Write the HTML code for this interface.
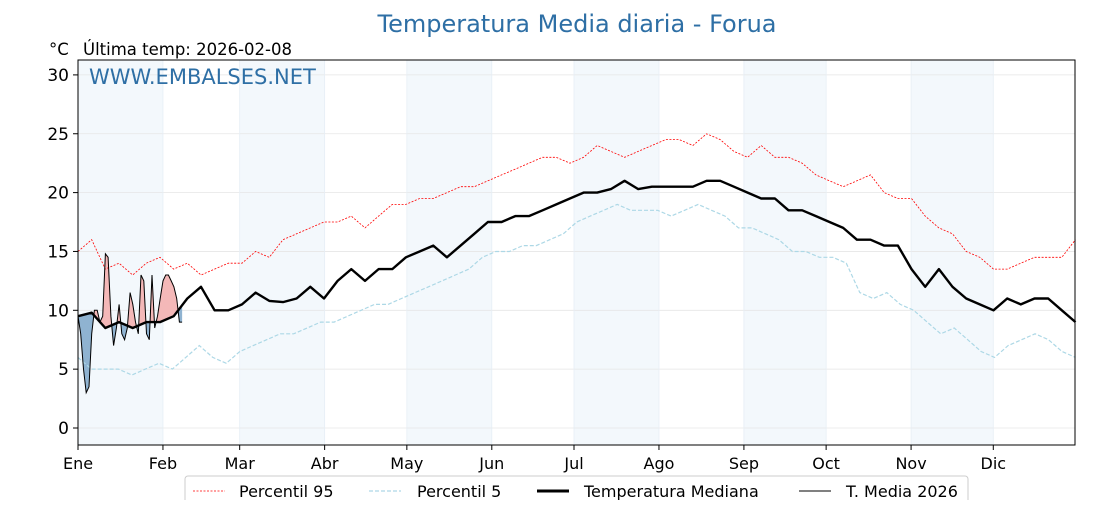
<!DOCTYPE html>
<html><head><meta charset="utf-8"><style>
body{margin:0;background:#fff;font-family:"Liberation Sans","DejaVu Sans",sans-serif;}
</style></head><body>
<svg id="c" width="1120" height="500" viewBox="0 0 1120 500" xmlns="http://www.w3.org/2000/svg">
<text x="577" y="32" text-anchor="middle" font-size="24" fill="#2e6fa5" font-family="DejaVu Sans, sans-serif">Temperatura Media diaria - Forua</text>
<text x="49" y="55" font-size="16.5" font-family="DejaVu Sans, sans-serif">°C</text>
<text x="83" y="55" font-size="16.5" font-family="DejaVu Sans, sans-serif">Última temp: 2026-02-08</text>
<g id="bands"></g><g id="grid"></g><g id="fills"></g><g id="lines"></g>
<rect x="78" y="60" width="997" height="385" fill="none" stroke="#000" stroke-width="1"/>
<text x="89" y="84" font-size="21" fill="#2e6fa5" font-family="DejaVu Sans, sans-serif">WWW.EMBALSES.NET</text>
<g id="axes" font-family="DejaVu Sans, sans-serif"></g>
<g>
<rect x="185" y="476" width="783" height="30" rx="3" fill="#fff" stroke="#ccc"/>
<line x1="193" y1="491" x2="225" y2="491" stroke="red" stroke-width="0.8" stroke-dasharray="2,1.5"/>
<text x="239" y="497" font-size="16" font-family="DejaVu Sans, sans-serif">Percentil 95</text>
<line x1="369" y1="491" x2="401" y2="491" stroke="#add8e6" stroke-width="1.2" stroke-dasharray="4,2"/>
<text x="417" y="497" font-size="16" font-family="DejaVu Sans, sans-serif">Percentil 5</text>
<line x1="537" y1="491" x2="569" y2="491" stroke="#000" stroke-width="3"/>
<text x="584" y="497" font-size="16" font-family="DejaVu Sans, sans-serif">Temperatura Mediana</text>
<line x1="799" y1="491" x2="831" y2="491" stroke="#000" stroke-width="1"/>
<text x="846" y="497" font-size="16" font-family="DejaVu Sans, sans-serif">T. Media 2026</text>
</g>
</svg>
<script>
const monthLabels=["Ene","Feb","Mar","Abr","May","Jun","Jul","Ago","Sep","Oct","Nov","Dic"];
const monthStart=[0,31,59,90,120,151,181,212,243,273,304,334];
const yTicks=[0,5,10,15,20,25,30];
const median=[9.5,9.8,8.5,9,8.5,9,9,9.5,11,12,10,10,10.5,11.5,10.8,10.7,11,12,11,12.5,13.5,12.5,13.5,13.5,14.5,15,15.5,14.5,15.5,16.5,17.5,17.5,18,18,18.5,19,19.5,20,20,20.3,21,20.3,20.5,20.5,20.5,20.5,21,21,20.5,20,19.5,19.5,18.5,18.5,18,17.5,17,16,16,15.5,15.5,13.5,12,13.5,12,11,10.5,10,11,10.5,11,11,10,9];
const p95=[15,16,13.5,14,13,14,14.5,13.5,14,13,13.5,14,14,15,14.5,16,16.5,17,17.5,17.5,18,17,18,19,19,19.5,19.5,20,20.5,20.5,21,21.5,22,22.5,23,23,22.5,23,24,23.5,23,23.5,24,24.5,24.5,24,25,24.5,23.5,23,24,23,23,22.5,21.5,21,20.5,21,21.5,20,19.5,19.5,18,17,16.5,15,14.5,13.5,13.5,14,14.5,14.5,14.5,16];
const p5=[6,5,5,5,4.5,5,5.5,5,6,7,6,5.5,6.5,7,7.5,8,8,8.5,9,9,9.5,10,10.5,10.5,11,11.5,12,12.5,13,13.5,14.5,15,15,15.5,15.5,16,16.5,17.5,18,18.5,19,18.5,18.5,18.5,18,18.5,19,18.5,18,17,17,16.5,16,15,15,14.5,14.5,14,11.5,11,11.5,10.5,10,9,8,8.5,7.5,6.5,6,7,7.5,8,7.5,6.5,6];
const t2026=[9.5,8,5,3,3.5,8,10,10,9,9.5,14.8,14.5,9.5,7,8.5,10.5,8,7.5,8.5,11.5,10.5,9,8,13,12.5,8,7.5,13,8.5,9.5,11,12.5,13,13,12.5,12,11,9,9];
const NS="http://www.w3.org/2000/svg";
const X0=78,X1=1075.5,Y0v=428,PX=11.77;
function xs(d){return X0+d*(X1-X0)/364;}
function ys(v){return Y0v-v*PX;}
function mk(t,a,p){const e=document.createElementNS(NS,t);for(const k in a)e.setAttribute(k,a[k]);(p||document.getElementById('c')).appendChild(e);return e;}
function dayOf(i,n){return i*364/(n-1);}
function medAt(d){const n=median.length,f=d*(n-1)/364,i=Math.min(Math.floor(f),n-2),t=f-i;return median[i]*(1-t)+median[i+1]*t;}
const bands=document.getElementById('bands');
for(let m=0;m<12;m+=2){const e=mk('rect',{x:xs(monthStart[m]),y:60,width:xs(monthStart[m+1])-xs(monthStart[m]),height:385,fill:'#f3f8fc'},bands);

}
const grid=document.getElementById('grid');
yTicks.forEach(v=>{const e=mk('line',{x1:78,x2:1075,y1:ys(v),y2:ys(v),stroke:'#e6e6e6','stroke-width':0.8},grid);

});
monthStart.forEach(d=>{const e=mk('line',{x1:xs(d),x2:xs(d),y1:60,y2:445,stroke:'#e6eef5','stroke-width':0.8},grid);

});
const axes=document.getElementById('axes');
yTicks.forEach(v=>{mk('line',{x1:73,x2:78,y1:ys(v),y2:ys(v),stroke:'#000'},axes);
const t=mk('text',{x:69,y:ys(v)+6,'text-anchor':'end','font-size':17},axes);t.textContent=v;

});
monthStart.forEach((d,i)=>{mk('line',{x1:xs(d),x2:xs(d),y1:445,y2:450,stroke:'#000'},axes);
const t=mk('text',{x:xs(d),y:469,'text-anchor':'middle','font-size':16},axes);t.textContent=monthLabels[i];

});
const defs=mk('defs',{});
let medPts=[];for(let d=0;d<=40;d+=0.5)medPts.push(xs(d)+','+ys(medAt(d)));
const ca=mk('clipPath',{id:'above'},defs);mk('polygon',{points:xs(0)+',0 '+medPts.join(' ')+' '+xs(40)+',0'},ca);
const cb=mk('clipPath',{id:'below'},defs);mk('polygon',{points:xs(0)+',500 '+medPts.join(' ')+' '+xs(40)+',500'},cb);
const last=t2026.length-1;
let poly=t2026.map((v,i)=>xs(i)+','+ys(v));for(let d=last;d>=0;d-=0.5)poly.push(xs(d)+','+ys(medAt(d)));
const fills=document.getElementById('fills');
const fa=mk('polygon',{points:poly.join(' '),fill:'#f4b8b8','clip-path':'url(#above)'},fills);


const fb=mk('polygon',{points:poly.join(' '),fill:'#8fb3d1','clip-path':'url(#below)'},fills);


const lines=document.getElementById('lines');
function path(arr,dayFn,attrs,name){const d=arr.map((v,i)=>(i?'L':'M')+xs(dayFn(i,arr.length)).toFixed(1)+','+ys(v).toFixed(1)).join('');const e=mk('path',Object.assign({d:d,fill:'none'},attrs),lines);

}
path(p95,dayOf,{stroke:'red','stroke-width':0.8,'stroke-dasharray':'2,1.5'},'percentile-95-line');
path(p5,dayOf,{stroke:'#add8e6','stroke-width':1.2,'stroke-dasharray':'4,2'},'percentile-5-line');
path(median,dayOf,{stroke:'#000','stroke-width':2.4,'stroke-linejoin':'round'},'median-line');
path(t2026,i=>i,{stroke:'#000','stroke-width':1},'t-media-2026-line');
</script>
</body></html>
